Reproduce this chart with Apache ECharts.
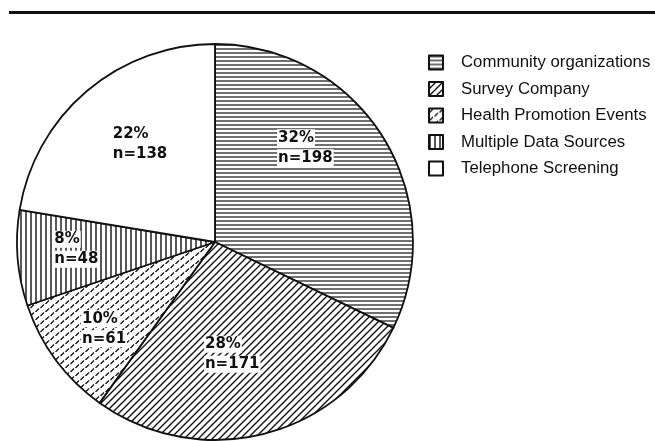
<!DOCTYPE html>
<html><head><meta charset="utf-8">
<script src="https://cdn.jsdelivr.net/npm/echarts@6/dist/echarts.min.js"></script>
<style>html,body{margin:0;padding:0;background:#fff}#c{width:655px;height:441px}</style>
</head><body><div id="c"></div>
<script>
var categories = ['Community organizations','Survey Company','Health Promotion Events','Multiple Data Sources','Telephone Screening'];
var counts = [198, 171, 61, 48, 138];
var percentLabels = ['32%','28%','10%','8%','22%'];

function makePattern(kind){
  var c = document.createElement('canvas');
  var w = kind==='h'?4:kind==='v'?5:kind==='d'?7:kind==='x'?10:4;
  var h = kind==='x'?8:w;
  c.width = w; c.height = h;
  var g = c.getContext('2d');
  g.fillStyle='#fff'; g.fillRect(0,0,w,h);
  g.strokeStyle='#111'; g.lineWidth=1.2;
  if(kind==='h'){ g.beginPath(); g.moveTo(0,1); g.lineTo(w,1); g.stroke(); }
  if(kind==='v'){ g.lineWidth=1.4; g.beginPath(); g.moveTo(1,0); g.lineTo(1,h); g.stroke(); }
  if(kind==='d'){ g.lineWidth=1.4; g.beginPath(); g.moveTo(-1,h+1); g.lineTo(w+1,-1); g.moveTo(-1,1); g.lineTo(1,-1); g.moveTo(w-1,h+1); g.lineTo(w+1,h-1); g.stroke(); }
  if(kind==='x'){ g.lineWidth=1.3; g.strokeStyle='#111'; g.beginPath(); g.moveTo(0.5,4); g.lineTo(4,0.5); g.moveTo(5.5,8); g.lineTo(9,4.5); g.stroke(); }
  return {image:c, repeat:'repeat'};
}
var patterns = [makePattern('h'), makePattern('d'), makePattern('x'), makePattern('v'), '#fff'];
var labelShift = [[4,-40],[-8,13.5],[-29,26],[-37,-1],[-9,-20]];

var chart = echarts.init(document.getElementById('c'));
chart.setOption({
  animation:false,
  graphic:[{type:'line', shape:{x1:9,y1:12.5,x2:655,y2:12.5}, style:{stroke:'#111', lineWidth:3}}],
  legend:{
    orient:'vertical', left:423, top:49, icon:'rect', itemWidth:14, itemHeight:14, itemGap:9.5,
    itemStyle:{borderColor:'#111', borderWidth:2},
    textStyle:{fontFamily:'Liberation Sans, Arial, sans-serif', fontSize:16.8, color:'#111', padding:[0,0,0,13]},
    data:categories
  },
  series:[{
    type:'pie', center:[215,242], radius:198, startAngle:90, clockwise:true,
    label:{position:'inside', formatter:function(p){return '{a|'+percentLabels[p.dataIndex]+'}\n{a|n='+counts[p.dataIndex]+'}';},
      rich:{a:{fontFamily:'DejaVu Sans, sans-serif', fontWeight:'bold', fontSize:15, color:'#111', backgroundColor:'#fff', padding:[1,1,1,1], lineHeight:20, align:'left'}}},
    labelLayout:function(p){var d=labelShift[p.dataIndex]; return {dx:d[0], dy:d[1]};},
    labelLine:{show:false},
    itemStyle:{borderColor:'#111', borderWidth:1.8},
    emphasis:{disabled:true},
    data:categories.map(function(n,i){return {name:n, value:counts[i], itemStyle:{color:patterns[i]}};})
  }]
});
</script></body></html>
